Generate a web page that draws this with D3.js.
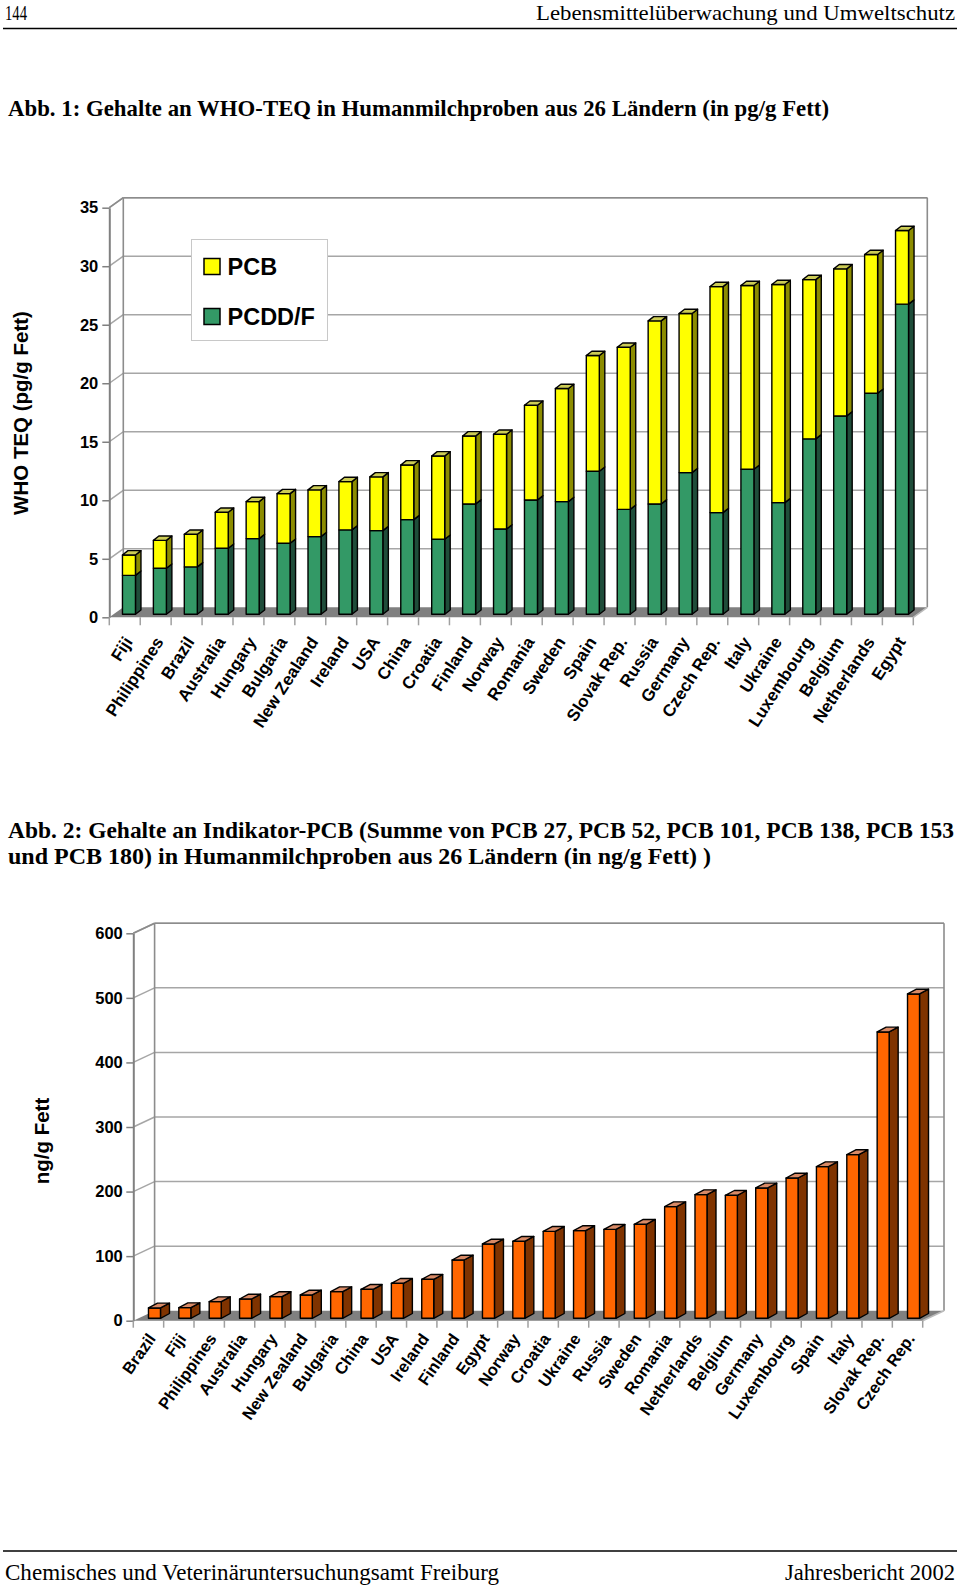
<!DOCTYPE html>
<html><head><meta charset="utf-8">
<script src="https://cdn.jsdelivr.net/npm/d3@7/dist/d3.min.js"></script>
<style>body{margin:0;background:#fff}svg{display:block}</style>
</head><body>
<svg id="page" width="960" height="1587"></svg>
<script>
// ---------- Data: Abb. 1 (WHO-TEQ, pg/g Fett) ----------
const teqCountries = ["Fiji","Philippines","Brazil","Australia","Hungary","Bulgaria","New Zealand","Ireland","USA","China","Croatia","Finland","Norway","Romania","Sweden","Spain","Slovak Rep.","Russia","Germany","Czech Rep.","Italy","Ukraine","Luxembourg","Belgium","Netherlands","Egypt"];
const pcddfValues = [3.33,3.93,4.05,5.64,6.47,6.07,6.64,7.21,7.15,8.09,6.41,9.43,7.29,9.77,9.63,12.22,8.97,9.43,12.11,8.69,12.39,9.54,14.99,16.95,18.89,26.5];
const pcbTeqValues = [1.74,2.39,2.79,3.08,3.16,4.24,3.99,4.13,4.59,4.67,7.12,5.81,8.09,8.09,9.66,9.89,13.85,15.64,13.59,19.31,15.70,18.64,13.61,12.57,11.85,6.29];
const teqSeries = ["PCDD/F","PCB"];
const teqTicks = [0,5,10,15,20,25,30,35];

// ---------- Data: Abb. 2 (Indikator-PCB, ng/g Fett) ----------
const pcbCountries = ["Brazil","Fiji","Philippines","Australia","Hungary","New Zealand","Bulgaria","China","USA","Ireland","Finland","Egypt","Norway","Croatia","Ukraine","Russia","Sweden","Romania","Netherlands","Belgium","Germany","Luxembourg","Spain","Italy","Slovak Rep.","Czech Rep."];
const indicatorPcbValues = [16,16.5,25.8,29.9,33.6,36.1,41.3,44.9,54.2,60.4,90.3,115.1,119.3,134.7,135.8,137.8,145.6,172.9,191.5,190.5,201.9,217.3,234.9,253.5,443.5,502.3];
const pcbTicks = [0,100,200,300,400,500,600];

const SANS = '"Liberation Sans", Arial, sans-serif';
const SERIF = '"Liberation Serif", "Times New Roman", serif';

const svg = d3.select("#page");
svg.append("rect").attr("width",960).attr("height",1587).attr("fill","#fff");

// ---------- Page text ----------
function pageText(txt, x, y, size, len, weight, anchor) {
  const t = svg.append("text").attr("x",x).attr("y",y)
    .attr("font-family",SERIF).attr("font-size",size)
    .attr("font-weight",weight||"normal").attr("fill","#000").text(txt);
  if (anchor) t.attr("text-anchor",anchor);
  if (len) t.attr("textLength",len).attr("lengthAdjust","spacingAndGlyphs");
  return t;
}
pageText("144", 5, 19.5, 21, 22);
pageText("Lebensmittelüberwachung und Umweltschutz", 536, 19.5, 21, 419);
svg.append("line").attr("x1",3).attr("x2",957).attr("y1",28.5).attr("y2",28.5).attr("stroke","#000").attr("stroke-width",1.5);
pageText("Abb. 1: Gehalte an WHO-TEQ in Humanmilchproben aus 26 Ländern (in pg/g Fett)", 8, 116, 23, 821, "bold");
pageText("Abb. 2: Gehalte an Indikator-PCB (Summe von PCB 27, PCB 52, PCB 101, PCB 138, PCB 153", 8, 838, 23, 946, "bold");
pageText("und PCB 180) in Humanmilchproben aus 26 Ländern (in ng/g Fett) )", 8, 864, 23, 703, "bold");
svg.append("line").attr("x1",3).attr("x2",957).attr("y1",1551).attr("y2",1551).attr("stroke","#000").attr("stroke-width",1.5);
pageText("Chemisches und Veterinäruntersuchungsamt Freiburg", 5, 1580, 23, 494);
pageText("Jahresbericht 2002", 785, 1580, 23, 170);

// ---------- 3D bar chart helper ----------
function chart3D(cfg) {
  const g = svg.append("g");
  const x = d3.scaleBand().domain(cfg.categories).range([cfg.x0, cfg.x1]).paddingInner(0).paddingOuter(0);
  const y = d3.scaleLinear().domain([0, cfg.max]).range([cfg.yBase, cfg.yTop]);
  const wdx = cfg.wdx, wdy = cfg.wdy;
  const bx0 = cfg.x0 + wdx, bx1 = cfg.x1 + wdx;

  // floor
  g.append("path")
    .attr("d", `M${cfg.x0},${cfg.yBase}L${cfg.x1},${cfg.yBase}L${bx1},${cfg.yBase+wdy}L${bx0},${cfg.yBase+wdy}Z`)
    .attr("fill","#808080");

  // gridlines on back wall + side wall diagonals
  const grid = g.append("g").attr("stroke","#a6a6a6").attr("stroke-width",1.5).attr("fill","none");
  cfg.ticks.filter(t => t > 0).forEach(t => {
    grid.append("line").attr("x1",bx0).attr("x2",bx1).attr("y1",y(t)+wdy).attr("y2",y(t)+wdy);
    grid.append("line").attr("x1",cfg.x0).attr("x2",bx0).attr("y1",y(t)).attr("y2",y(t)+wdy);
  });
  // wall edges
  const edges = g.append("g").attr("stroke","#8c8c8c").attr("stroke-width",1.6).attr("fill","none");
  edges.append("line").attr("x1",bx0).attr("x2",bx0).attr("y1",y(cfg.max)+wdy).attr("y2",cfg.yBase+wdy);
  edges.append("line").attr("x1",bx1).attr("x2",bx1).attr("y1",y(cfg.max)+wdy).attr("y2",cfg.yBase+wdy);
  edges.append("line").attr("x1",bx0).attr("x2",bx1).attr("y1",y(cfg.max)+wdy).attr("y2",y(cfg.max)+wdy);
  edges.append("line").attr("x1",cfg.x0).attr("x2",bx0).attr("y1",y(cfg.max)).attr("y2",y(cfg.max)+wdy);
  edges.append("line").attr("x1",bx1).attr("x2",cfg.x1).attr("y1",cfg.yBase+wdy).attr("y2",cfg.yBase).attr("stroke","#bbb");

  if (cfg.beforeBars) cfg.beforeBars(g);

  // y axis
  const ax = g.append("g").attr("transform",`translate(${cfg.x0},0)`)
    .call(d3.axisLeft(y).tickValues(cfg.ticks).tickSize(7).tickSizeOuter(0).tickPadding(cfg.tickPad));
  ax.select(".domain").attr("stroke","#808080").attr("stroke-width",2);
  ax.selectAll(".tick line").attr("stroke","#808080").attr("stroke-width",1.5);
  ax.selectAll(".tick text").attr("font-family",SANS).attr("font-size",16.5).attr("font-weight","bold").attr("fill","#000");

  // category ticks at band boundaries
  const bounds = cfg.categories.map(c => x(c)).concat([cfg.x1]);
  g.append("g").selectAll("line").data(bounds).join("line")
    .attr("x1",d=>d).attr("x2",d=>d).attr("y1",cfg.yBase).attr("y2",cfg.yBase+cfg.catTick)
    .attr("stroke","#a0a0a0").attr("stroke-width",1.5);

  // bars
  const stack = d3.stack().keys(cfg.keys)(cfg.rows);
  const bw = cfg.barW, sdx = cfg.sdx, sdy = cfg.sdy;
  const barsG = g.append("g").attr("stroke","#000").attr("stroke-width",1.4).attr("stroke-linejoin","round");
  cfg.categories.forEach((c, i) => {
    const xc = x(c) + x.bandwidth()/2 + cfg.offX;
    const xl = xc - bw/2, xr = xc + bw/2;
    stack.forEach((layer, li) => {
      const v0 = layer[i][0], v1 = layer[i][1];
      const yt = y(v1) + cfg.offY, yb = y(v0) + cfg.offY;
      const col = cfg.colors[li];
      barsG.append("path").attr("fill",col.side)
        .attr("d",`M${xr},${yt}L${xr+sdx},${yt+sdy}L${xr+sdx},${yb+sdy}L${xr},${yb}Z`);
      barsG.append("rect").attr("fill",col.front)
        .attr("x",xl).attr("y",yt).attr("width",bw).attr("height",Math.max(0,yb-yt));
      if (li === stack.length-1) {
        barsG.append("path").attr("fill",col.top)
          .attr("d",`M${xl},${yt}L${xl+sdx},${yt+sdy}L${xr+sdx},${yt+sdy}L${xr},${yt}Z`);
      }
    });
  });

  // category labels
  g.append("g").selectAll("text").data(cfg.categories).join("text")
    .attr("transform", c => `translate(${x(c)+x.bandwidth()/2+cfg.labDx},${cfg.yBase+cfg.labDy}) rotate(${cfg.labAngle})`)
    .attr("text-anchor","end").attr("font-family",SANS).attr("font-size",cfg.labSize).attr("font-weight","bold")
    .attr("fill","#000").text(c => c);

  // y axis title
  g.append("text").attr("transform",`translate(${cfg.titleX},${cfg.titleY}) rotate(-90)`)
    .attr("text-anchor","middle").attr("font-family",SANS).attr("font-size",20.5).attr("font-weight","bold")
    .attr("fill","#000").text(cfg.title);
  return g;
}

// ---------- Chart 1 ----------
const teqRows = teqCountries.map((c,i) => ({country:c, "PCDD/F":pcddfValues[i], "PCB":pcbTeqValues[i]}));
chart3D({
  categories: teqCountries, rows: teqRows, keys: teqSeries,
  colors: [
    {front:"#339966", side:"#1f4d3a", top:"#5aa57e"},
    {front:"#ffff00", side:"#8c8c00", top:"#cccc55"}
  ],
  max: 35, ticks: teqTicks,
  x0: 109.3, x1: 913.3, yBase: 617.3, yTop: 207.7,
  wdx: 14, wdy: -10,
  barW: 13, offX: 4.2, offY: -3, sdx: 5.5, sdy: -4.3,
  tickPad: 4, catTick: 8,
  labDx: 8.5, labDy: 24.5, labAngle: -57, labSize: 17,
  title: "WHO TEQ (pg/g Fett)", titleX: 28, titleY: 413,
  beforeBars: g => {
    const lg = g.append("g");
    lg.append("rect").attr("x",191.5).attr("y",239.5).attr("width",136).attr("height",101)
      .attr("fill","#fff").attr("stroke","#c8c8c8").attr("stroke-width",1);
    const items = [{name:"PCB", col:"#ffff00", y:258.5}, {name:"PCDD/F", col:"#339966", y:308.5}];
    items.forEach(it => {
      lg.append("rect").attr("x",204).attr("y",it.y).attr("width",16).attr("height",16)
        .attr("fill",it.col).attr("stroke","#000").attr("stroke-width",1.5);
      lg.append("text").attr("x",227.5).attr("y",it.y+16).attr("font-family",SANS)
        .attr("font-size",23.5).attr("font-weight","bold").attr("fill","#000").text(it.name);
    });
  }
});

// ---------- Chart 2 ----------
const pcbRows = pcbCountries.map((c,i) => ({country:c, value:indicatorPcbValues[i]}));
chart3D({
  categories: pcbCountries, rows: pcbRows, keys: ["value"],
  colors: [{front:"#ff6600", side:"#7f3300", top:"#d98a66"}],
  max: 600, ticks: pcbTicks,
  x0: 133.3, x1: 922.7, yBase: 1320.7, yTop: 933.3,
  wdx: 21.3, wdy: -10,
  barW: 12, offX: 6, offY: -2.4, sdx: 9, sdy: -4.8,
  tickPad: 3.5, catTick: 7,
  labDx: 8, labDy: 18, labAngle: -55, labSize: 16.5,
  title: "ng/g Fett", titleX: 49, titleY: 1141
});
</script>
</body></html>
